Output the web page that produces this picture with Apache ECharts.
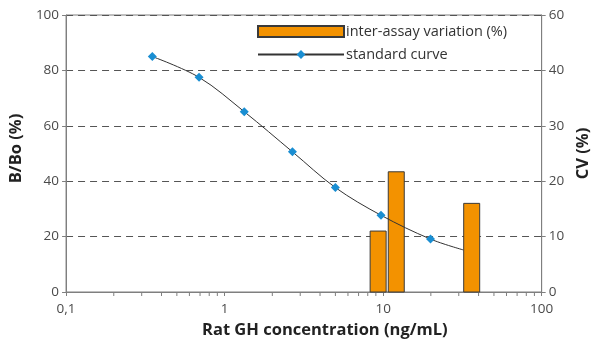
<!DOCTYPE html>
<html>
<head>
<meta charset="utf-8">
<script src="https://cdn.jsdelivr.net/npm/echarts@6/dist/echarts.min.js"></script>
<style>
  html, body { margin: 0; padding: 0; background: #ffffff; }
  #chart { width: 600px; height: 349px; }
</style>
</head>
<body>
<div id="chart"></div>
<script>
// Standard curve: concentration (ng/mL) vs B/Bo (%)
const curveConc = [0.35, 0.69, 1.33, 2.68, 5.0, 9.7, 19.9, 32];
const curveBBo  = [85, 77.5, 65.1, 50.6, 37.7, 27.7, 19.1, 15.2];
// the last point only closes the fitted curve, it carries no marker
const curveMarked = [true, true, true, true, true, true, true, false];

// Inter-assay variation: concentration (ng/mL) vs CV (%)
const cvConc = [9.3, 12.1, 36.2];
const cvValue = [11.0, 21.7, 16.0];

// Minor tick positions on the log axis
const minorTicks = [0.2, 0.3, 0.4, 0.5, 0.6, 0.7, 0.8, 0.9,
                    2, 3, 4, 5, 6, 7, 8, 9,
                    20, 30, 40, 50, 60, 70, 80, 90];

const leftTicks = { min: 0, max: 100, interval: 20 };
const rightTicks = { min: 0, max: 50, interval: 10, topLabel: '60' };

const AXIS = '#7f7f7f';
const LABEL = '#4a4a4a';
const ORANGE = '#F39200';
const BLUE = '#1A8ED2';
const FONT = '"Open Sans", "Noto Sans", sans-serif';

const chart = echarts.init(document.getElementById('chart'), null, { renderer: 'canvas' });

const option = {
  animation: false,
  backgroundColor: '#ffffff',
  textStyle: { fontFamily: FONT },
  grid: {
    left: 60, right: 57, top: 15, bottom: 57,
    show: true, borderColor: AXIS, borderWidth: 1, backgroundColor: 'transparent'
  },
  legend: {
    orient: 'vertical',
    left: 257, top: 24,
    itemWidth: 86, itemHeight: 11, itemGap: 8,
    padding: 0,
    textStyle: { fontFamily: FONT, fontSize: 14.5, color: '#333', padding: [0, 0, 0, -3] },
    data: [
      { name: 'inter-assay variation (%)', icon: 'rect' },
      { name: 'standard curve' }
    ]
  },
  xAxis: {
    type: 'log', logBase: 10, min: 0.1, max: 100,
    name: 'Rat GH concentration (ng/mL)',
    nameLocation: 'middle', nameGap: 30,
    nameTextStyle: { fontFamily: FONT, fontWeight: 'bold', fontSize: 16.5, color: '#222', padding: [0, 0, 0, 42] },
    axisLine: { lineStyle: { color: AXIS, width: 1 } },
    axisTick: { show: true, inside: false, length: 4, lineStyle: { color: AXIS } },
    axisLabel: {
      color: LABEL, fontSize: 13.5, margin: 10, fontFamily: FONT,
      formatter: v => (v < 0.5 ? '0,1' : String(Math.round(v)))
    },
    splitLine: { show: false }
  },
  yAxis: [
    {
      type: 'value', min: leftTicks.min, max: leftTicks.max, interval: leftTicks.interval,
      name: 'B/Bo (%)', nameLocation: 'middle', nameGap: 36,
      nameTextStyle: { fontFamily: FONT, fontWeight: 'bold', fontSize: 16.5, color: '#222', padding: [0, 0, 0, 10] },
      axisLine: { show: true, lineStyle: { color: AXIS, width: 1 } },
      axisTick: { show: true, length: 4, lineStyle: { color: AXIS } },
      axisLabel: { color: LABEL, fontSize: 13.5, margin: 7, fontFamily: FONT },
      splitLine: { show: true, lineStyle: { color: '#555', type: [7, 5], width: 1 } }
    },
    {
      type: 'value', min: rightTicks.min, max: rightTicks.max, interval: rightTicks.interval,
      position: 'right',
      name: 'CV (%)', nameLocation: 'middle', nameGap: 33, nameRotate: 90,
      nameTextStyle: { fontFamily: FONT, fontWeight: 'bold', fontSize: 16.5, color: '#222' },
      axisLine: { show: true, lineStyle: { color: AXIS, width: 1 } },
      axisTick: { show: true, length: 4, lineStyle: { color: AXIS } },
      axisLabel: {
        color: LABEL, fontSize: 13.5, margin: 7, fontFamily: FONT,
        formatter: v => (v === rightTicks.max ? rightTicks.topLabel : String(v))
      },
      splitLine: { show: false }
    }
  ],
  series: [
    {
      name: 'inter-assay variation (%)',
      type: 'custom',
      xAxisIndex: 0, yAxisIndex: 1,
      z: 2,
      itemStyle: { color: ORANGE, borderColor: '#3a3a3a', borderWidth: 1 },
      data: cvConc.map((c, i) => [c, cvValue[i]]),
      renderItem: function (params, api) {
        const top = api.coord([api.value(0), api.value(1)]);
        const base = api.coord([api.value(0), 0]);
        const w = 16;
        return {
          type: 'rect',
          shape: { x: top[0] - w / 2, y: top[1], width: w, height: base[1] - top[1] },
          style: { fill: ORANGE, stroke: '#3a3a3a', lineWidth: 1 }
        };
      }
    },
    {
      name: 'standard curve',
      type: 'line',
      xAxisIndex: 0, yAxisIndex: 0,
      z: 5,
      smooth: 0.35,
      symbol: 'diamond',
      symbolSize: 9,
      lineStyle: { color: '#333', width: 1 },
      itemStyle: { color: BLUE, borderWidth: 0 },
      data: curveConc.map((c, i) => ({
        value: [c, curveBBo[i]],
        symbol: curveMarked[i] ? 'diamond' : 'none'
      }))
    },
    {
      name: 'minor ticks',
      type: 'custom',
      xAxisIndex: 0, yAxisIndex: 0,
      silent: true,
      z: 1,
      data: minorTicks.map(v => [v, 0]),
      renderItem: function (params, api) {
        const p = api.coord([api.value(0), 0]);
        return {
          type: 'line',
          shape: { x1: p[0], y1: p[1], x2: p[0], y2: p[1] + 4 },
          style: { stroke: AXIS, lineWidth: 1 }
        };
      }
    }
  ]
};

chart.setOption(option);
</script>
</body>
</html>
